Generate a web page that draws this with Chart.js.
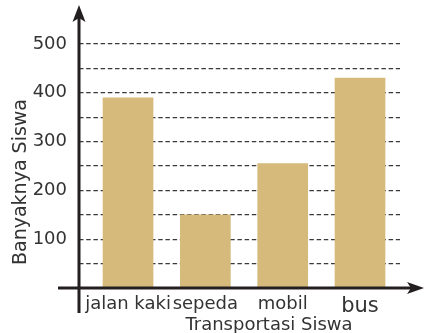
<!DOCTYPE html>
<html>
<head>
<meta charset="utf-8">
<script src="https://cdn.jsdelivr.net/npm/chart.js@4"></script>
<style>
  html, body { margin: 0; padding: 0; background: #fff; }
  #wrap { width: 424px; height: 333px; }
</style>
</head>
<body>
<div id="wrap"><canvas id="transport-canvas" width="424" height="333"></canvas></div>
<script>
const transports = ['jalan kaki', 'sepeda', 'mobil', 'bus'];
const students = [390, 150, 255, 430];
const yTicks = [0, 50, 100, 150, 200, 250, 300, 350, 400, 450, 500];
const yLabelled = [100, 200, 300, 400, 500];

const inkColor = '#231f20';
const textColor = '#333333';
const barColor = '#d6ba7b';

// axes with arrow heads plus the two axis titles
const axisArrows = {
    id: 'axisArrows',
    afterDraw(chart) {
        const ctx = chart.ctx;
        const x0 = chart.scales.x.left;
        const y0 = chart.scales.y.getPixelForValue(0);
        ctx.save();
        ctx.strokeStyle = inkColor;
        ctx.fillStyle = inkColor;
        ctx.lineWidth = 3;

        // vertical axis
        ctx.beginPath();
        ctx.moveTo(x0, 18);
        ctx.lineTo(x0, 313);
        ctx.stroke();
        ctx.beginPath();
        ctx.moveTo(x0, 5);
        ctx.lineTo(x0 - 6.5, 22);
        ctx.lineTo(x0, 18);
        ctx.lineTo(x0 + 6.5, 22);
        ctx.closePath();
        ctx.fill();

        // horizontal axis
        ctx.beginPath();
        ctx.moveTo(58, y0);
        ctx.lineTo(412, y0);
        ctx.stroke();
        ctx.beginPath();
        ctx.moveTo(424, y0);
        ctx.lineTo(407, y0 - 6);
        ctx.lineTo(411, y0);
        ctx.lineTo(407, y0 + 6);
        ctx.closePath();
        ctx.fill();

        ctx.fillStyle = textColor;
        ctx.font = '18px "DejaVu Sans"';
        ctx.textAlign = 'center';
        ctx.textBaseline = 'alphabetic';
        ctx.fillText('Transportasi Siswa', 269, 330);

        ctx.translate(26, 182);
        ctx.rotate(-Math.PI / 2);
        ctx.font = '19px "DejaVu Sans"';
        ctx.fillText('Banyaknya Siswa', 0, 0);
        ctx.restore();
    }
};

function noPadding(scale) {
    scale.paddingTop = 0;
    scale.paddingBottom = 0;
    scale.paddingLeft = 0;
    scale.paddingRight = 0;
}

new Chart(document.getElementById('transport-canvas'), {
    type: 'bar',
    data: {
        datasets: [{
            label: 'Banyaknya Siswa',
            data: transports.map((t, i) => ({ x: i, y: students[i] })),
            backgroundColor: barColor,
            borderWidth: 0,
            barThickness: 50
        }]
    },
    options: {
        responsive: false,
        animation: false,
        devicePixelRatio: 1,
        layout: { padding: { left: 0, right: 24, top: 5, bottom: 0 } },
        plugins: {
            legend: { display: false },
            tooltip: { enabled: false }
        },
        scales: {
            x: {
                type: 'linear',
                offset: false,
                min: -0.634,
                max: 3.517,
                afterBuildTicks: scale => { scale.ticks = transports.map((t, i) => ({ value: i })); },
                afterFit: scale => { scale.height = 45; noPadding(scale); },
                grid: { display: false, drawTicks: false, offset: false },
                border: { display: false },
                ticks: {
                    padding: 6,
                    color: textColor,
                    autoSkip: false,
                    maxRotation: 0,
                    callback: value => transports[value],
                    font: ctx => ({
                        family: '"DejaVu Sans"',
                        size: ctx.tick && ctx.tick.value === 3 ? 21 : 18
                    })
                }
            },
            y: {
                type: 'linear',
                min: 0,
                max: 580,
                afterBuildTicks: scale => { scale.ticks = yTicks.map(v => ({ value: v })); },
                afterFit: scale => { scale.width = 79; noPadding(scale); },
                grid: {
                    drawTicks: false,
                    lineWidth: 1.3,
                    color: ctx => (ctx.tick && ctx.tick.value > 0) ? '#3a3a3a' : 'rgba(0,0,0,0)'
                },
                border: { display: false, dash: [4.5, 2.7] },
                ticks: {
                    padding: 12,
                    color: textColor,
                    font: { family: '"DejaVu Sans"', size: 18 },
                    callback: value => yLabelled.includes(value) ? value : ''
                }
            }
        }
    },
    plugins: [axisArrows]
});
</script>
</body>
</html>
